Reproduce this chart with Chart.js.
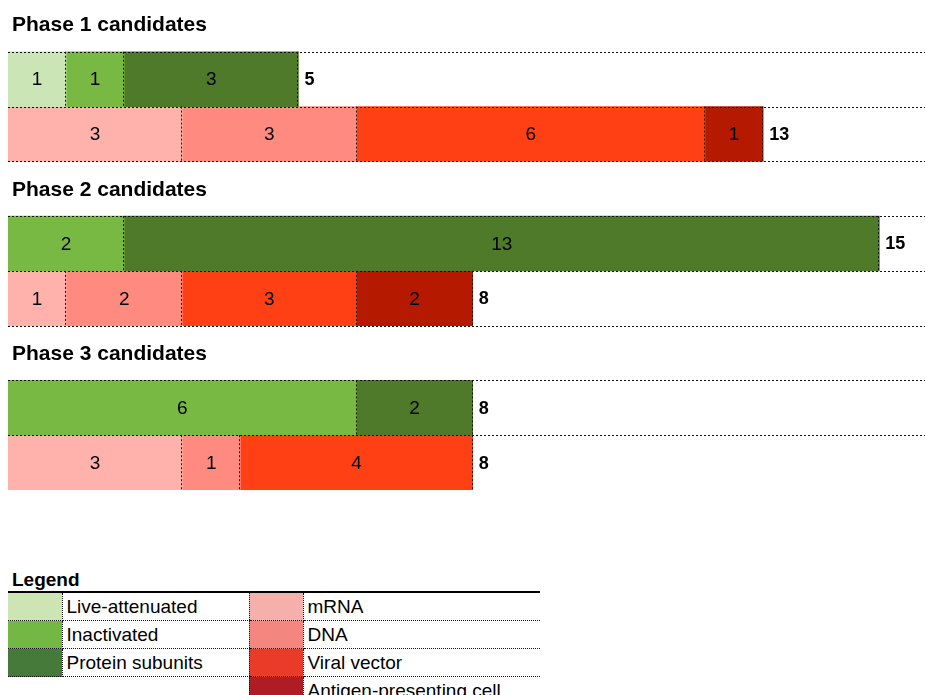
<!DOCTYPE html>
<html>
<head>
<meta charset="utf-8">
<script src="https://cdn.jsdelivr.net/npm/chart.js@4"></script>
<style>
  html, body { margin: 0; padding: 0; background: #fff; width: 925px; height: 695px; overflow: hidden; }
  body { position: relative; font-family: "Liberation Sans", Arial, sans-serif; }
  #wrap { position: absolute; left: 0; top: -3px; width: 925px; height: 493px; }
  #legendTitle { position: absolute; left: 12px; top: 570px; font: bold 19px "Liberation Sans", Arial, sans-serif; line-height: 19px; }
  #legend { position: absolute; left: 8px; top: 591px; border-collapse: collapse; border-top: 2px solid #000; width: 532px; font-size: 19px; table-layout: fixed; }
  #legend td { padding: 0; height: 27px; white-space: nowrap; }
  #legend td.sw { border-right: 1px dotted #111; border-bottom: 1px dotted #111; }
  #legend td.sw.r { border-left: 1px dotted #111; }
  #legend td.tx { padding-left: 4px; border-bottom: 1px dotted #111; }
  #legend td.none { border: none; }
</style>
</head>
<body>
<div id="wrap"><canvas id="chart" width="925" height="493"></canvas></div>
<div id="legendTitle">Legend</div>
<table id="legend">
  <colgroup><col style="width:54px"><col style="width:187px"><col style="width:54px"><col style="width:237px"></colgroup>
</table>
<script>
const phaseTitles = ['Phase 1 candidates', 'Phase 2 candidates', 'Phase 3 candidates'];

// candidates per phase
const liveAttenuated = [1, 0, 0];
const inactivated = [1, 2, 6];
const proteinSubunits = [3, 13, 2];
const mrna = [3, 1, 3];
const dna = [3, 2, 1];
const viralVector = [6, 3, 4];
const antigenPresenting = [1, 2, 0];

const greenNames = ['Live-attenuated', 'Inactivated', 'Protein subunits'];
const redNames = ['mRNA', 'DNA', 'Viral vector', 'Antigen-presenting cell'];
const greenSeries = [liveAttenuated, inactivated, proteinSubunits];
const redSeries = [mrna, dna, viralVector, antigenPresenting];

const greenBarColors = ['#cce5b6', '#77b943', '#4e7a29'];
const redBarColors = ['#ffb2ab', '#ff8a80', '#ff4015', '#b51a00'];
const greenLegendColors = ['#cde4b5', '#73b845', '#467a3a'];
const redLegendColors = ['#f5b0ab', '#f3867f', '#e93b28', '#ae1c24'];

// each phase gets 3 rows: title, whole-virus/protein row, genetic row
const rowLabels = [];
phaseTitles.forEach((t, i) => {
    rowLabels.push(t, 'P' + (i + 1) + ' virus/protein', 'P' + (i + 1) + ' genetic');
});

function rowData(arr, kind) {
    const out = [];
    arr.forEach(v => {
        out.push(null);
        out.push(kind == 1 && v > 0 ? v : null);
        out.push(kind == 2 && v > 0 ? v : null);
    });
    return out;
}

const datasets = [];
greenSeries.forEach((s, i) => datasets.push({
    label: greenNames[i], data: rowData(s, 1), backgroundColor: greenBarColors[i],
    borderWidth: 0, barPercentage: 1, categoryPercentage: 1
}));
redSeries.forEach((s, i) => datasets.push({
    label: redNames[i], data: rowData(s, 2), backgroundColor: redBarColors[i],
    borderWidth: 0, barPercentage: 1, categoryPercentage: 1
}));

const FONT = '"Liberation Sans", Arial, sans-serif';

const decorations = {
    id: 'decorations',
    afterDatasetsDraw(chart) {
        const ctx = chart.ctx;
        const y = chart.scales.y;
        const x = chart.scales.x;
        const band = y.height / rowLabels.length;
        ctx.save();
        ctx.strokeStyle = '#111';
        ctx.lineWidth = 1;
        ctx.setLineDash([2, 2]);

        // horizontal dotted row lines
        for (let p = 0; p < phaseTitles.length; p++) {
            const g = y.getPixelForValue(p * 3 + 1);
            const r = y.getPixelForValue(p * 3 + 2);
            const lines = [g - band / 2, r - band / 2];
            if (p < phaseTitles.length - 1) lines.push(r + band / 2);
            lines.forEach(ly => {
                const yy = Math.round(ly) + 0.5;
                ctx.beginPath();
                ctx.moveTo(x.left, yy);
                ctx.lineTo(chart.width, yy);
                ctx.stroke();
            });
        }

        // segment separators + values
        ctx.font = '19px ' + FONT;
        ctx.fillStyle = '#000';
        ctx.textAlign = 'center';
        ctx.textBaseline = 'middle';
        chart.data.datasets.forEach((ds, di) => {
            const meta = chart.getDatasetMeta(di);
            meta.data.forEach((el, idx) => {
                const v = ds.data[idx];
                if (!(v > 0)) return;
                const xx = Math.round(el.x) - 0.5;
                ctx.beginPath();
                ctx.moveTo(xx, el.y - el.height / 2);
                ctx.lineTo(xx, el.y + el.height / 2);
                ctx.stroke();
                ctx.fillText(String(v), (el.base + el.x) / 2, el.y + 1);
            });
        });

        // totals
        ctx.font = 'bold 18px ' + FONT;
        ctx.textAlign = 'left';
        for (let r = 0; r < rowLabels.length; r++) {
            if (r % 3 == 0) continue;
            let total = 0;
            chart.data.datasets.forEach(ds => { if (ds.data[r] > 0) total += ds.data[r]; });
            ctx.fillText(String(total), x.getPixelForValue(total) + 6, y.getPixelForValue(r) + 1);
        }

        // phase titles
        ctx.font = 'bold 21px ' + FONT;
        ctx.textBaseline = 'alphabetic';
        phaseTitles.forEach((t, p) => {
            ctx.fillText(t, 12, y.getPixelForValue(p * 3) + 7);
        });
        ctx.restore();
    }
};

new Chart(document.getElementById('chart'), {
    type: 'bar',
    data: { labels: rowLabels, datasets: datasets },
    options: {
        indexAxis: 'y',
        responsive: false,
        animation: false,
        layout: { padding: { left: 8, right: 0, top: 0, bottom: 0 } },
        scales: {
            x: { stacked: true, min: 0, max: 15.786, display: false },
            y: { stacked: true, display: false }
        },
        plugins: { legend: { display: false }, tooltip: { enabled: false } }
    },
    plugins: [decorations]
});

// legend table
const table = document.getElementById('legend');
for (let i = 0; i < redNames.length; i++) {
    const tr = document.createElement('tr');
    let html = '';
    if (i < greenNames.length) {
        html += '<td class="sw" style="background:' + greenLegendColors[i] + '"></td><td class="tx">' + greenNames[i] + '</td>';
    } else {
        html += '<td class="none"></td><td class="none"></td>';
    }
    html += '<td class="sw r" style="background:' + redLegendColors[i] + '"></td><td class="tx">' + redNames[i] + '</td>';
    tr.innerHTML = html;
    table.appendChild(tr);
}
</script>
</body>
</html>
